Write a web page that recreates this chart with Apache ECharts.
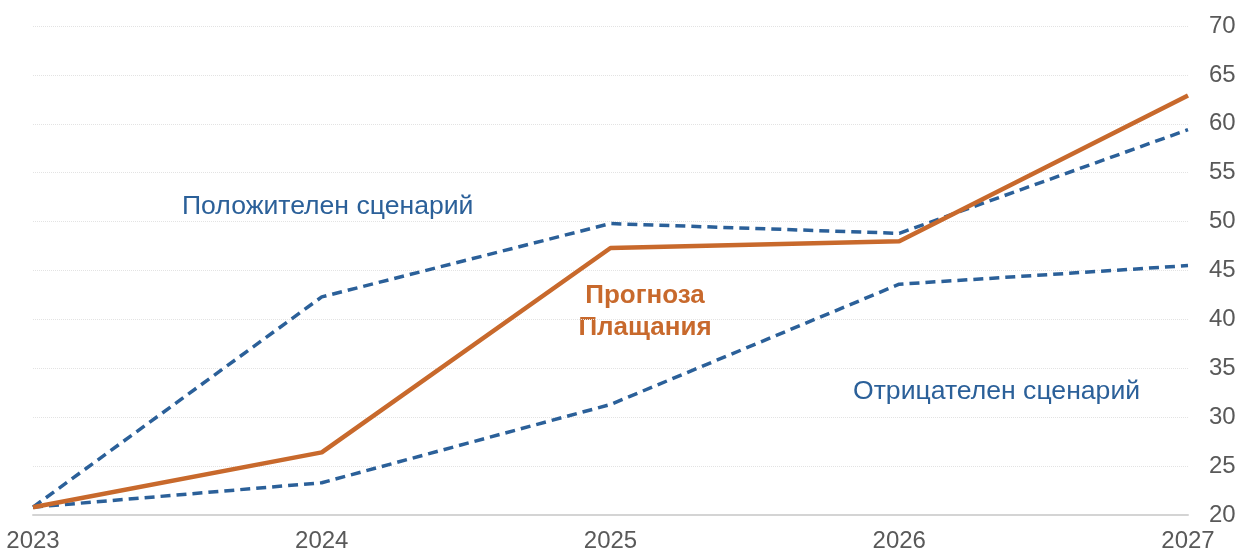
<!DOCTYPE html>
<html>
<head>
<meta charset="utf-8">
<script src="https://cdn.jsdelivr.net/npm/echarts@6/dist/echarts.min.js"></script>
<style>
  html, body { margin: 0; padding: 0; background: #fff; }
  #chart { width: 1239px; height: 553px; }
</style>
</head>
<body>
<div id="chart"></div>
<script>
const years = ['2023', '2024', '2025', '2026', '2027']
const forecast = [20.8, 26.4, 47.3, 48.0, 62.9]
const positive = [20.8, 42.3, 49.8, 48.8, 59.4]
const negative = [20.8, 23.3, 31.3, 43.6, 45.5]

const ORANGE = '#c8692c'
const BLUE = '#2b6099'
const FONT = 'Liberation Sans, Arial, sans-serif'

const chart = echarts.init(document.getElementById('chart'))

chart.setOption({
  animation: false,
  grid: { left: 33, right: 51, top: 26, bottom: 38, outerBoundsMode: 'none' },
  xAxis: {
    type: 'category',
    data: years,
    boundaryGap: false,
    axisLine: { lineStyle: { color: '#d4d4d4', width: 2 } },
    axisTick: { show: false },
    axisLabel: { color: '#595959', fontSize: 24, fontFamily: FONT, margin: 14 },
  },
  yAxis: {
    type: 'value',
    position: 'right',
    min: 20,
    max: 70,
    interval: 5,
    axisLine: { show: false },
    axisTick: { show: false },
    axisLabel: { color: '#595959', fontSize: 24, fontFamily: FONT, margin: 21 },
    splitLine: { lineStyle: { color: '#e3e3e3', width: 1, type: 'dotted' } },
  },
  series: [
    {
      name: 'Положителен сценарий',
      type: 'line',
      data: positive,
      symbol: 'none',
      lineStyle: { color: BLUE, width: 3.5, type: [10, 6] },
    },
    {
      name: 'Отрицателен сценарий',
      type: 'line',
      data: negative,
      symbol: 'none',
      lineStyle: { color: BLUE, width: 3.5, type: [10, 6] },
    },
    {
      name: 'Прогноза Плащания',
      type: 'line',
      data: forecast,
      symbol: 'none',
      lineStyle: { color: ORANGE, width: 4.5 },
      z: 3,
    },
  ],
  graphic: [
    {
      type: 'text',
      x: 182,
      y: 207,
      style: { text: 'Положителен сценарий', fill: BLUE, fontSize: 26.6, fontFamily: FONT, verticalAlign: 'middle' },
    },
    {
      type: 'text',
      x: 853,
      y: 392,
      style: { text: 'Отрицателен сценарий', fill: BLUE, fontSize: 26.6, fontFamily: FONT, verticalAlign: 'middle' },
    },
    {
      type: 'text',
      x: 645,
      y: 312,
      style: {
        text: 'Прогноза\nПлащания',
        fill: ORANGE,
        fontSize: 26,
        fontWeight: 'bold',
        fontFamily: FONT,
        align: 'center',
        verticalAlign: 'middle',
        lineHeight: 32,
      },
    },
  ],
})
</script>
</body>
</html>
